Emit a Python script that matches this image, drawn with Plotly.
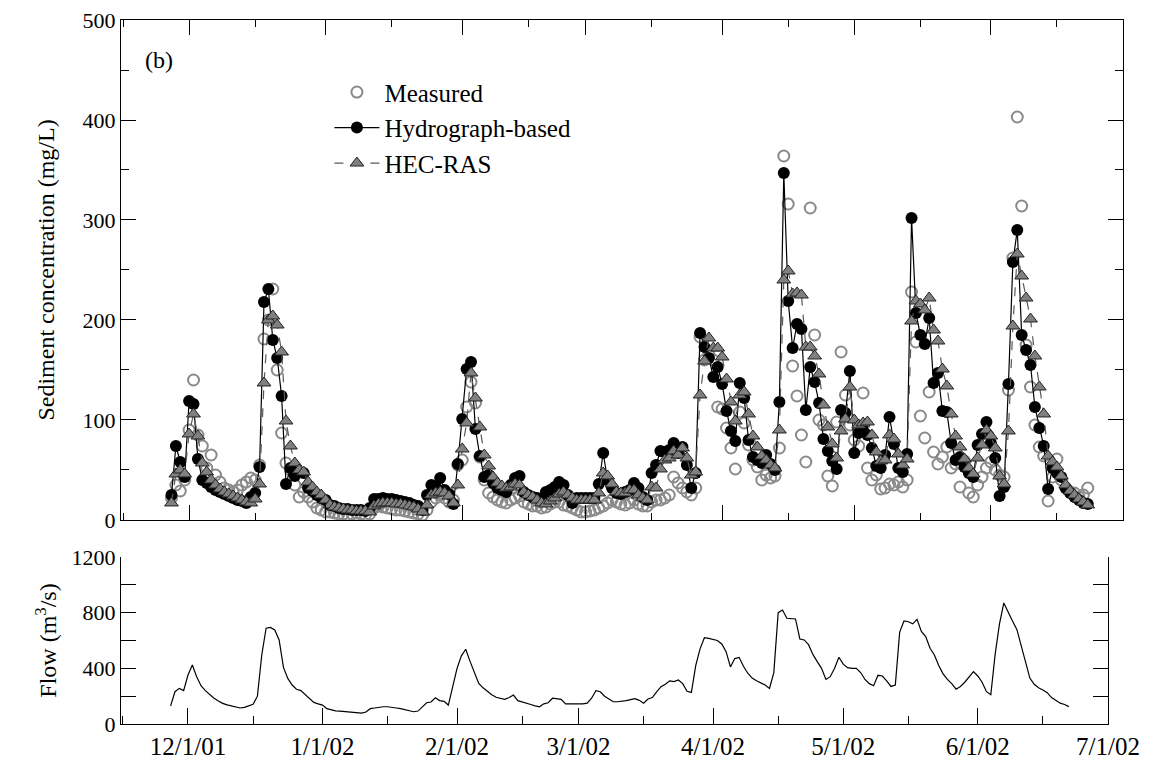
import plotly.graph_objects as go
import pandas as pd

start = "2001-11-27"

measured = [
    22, 35, 29, 40, 90, 140, 85, 74, 52, 65,
    45, 38, 32, 30, 28, 30, 35, 38, 42, 40,
    55, 181, 200, 231, 150, 87, 57, 50, 35, 23,
    28, 23, 18, 12, 10, 8, 8, 7, 6, 6,
    5, 6, 7, 6, 5, 6, 12, 14, 13, 12,
    11, 10, 10, 9, 8, 7, 6, 5, 10, 18,
    22, 25, 22, 18, 20, 55, 60, 113, 138, 117,
    63, 40, 27, 23, 20, 18, 17, 20, 22, 24,
    18, 16, 14, 14, 12, 13, 16, 18, 18, 15,
    14, 12, 10, 8, 8, 9, 10, 12, 14, 17,
    20, 18, 16, 15, 17, 20, 16, 14, 14, 18,
    20, 20, 22, 25, 43, 37, 32, 28, 25, 32,
    183, 160, 165, 160, 113, 111, 92, 72, 51, 108,
    97, 75, 60, 53, 40, 45, 42, 44, 72, 364,
    316, 154, 124, 85, 58, 312, 185, 100, 95, 44,
    34, 98, 168, 125, 95, 80, 74, 127, 52, 40,
    45, 31, 32, 36, 35, 38, 33, 40, 228, 178,
    104, 82, 128, 68, 56, 63, 73, 52, 56, 33,
    59, 27, 23, 35, 43, 52, 58, 50, 45, 43,
    130, 262, 403, 314, 175, 133, 95, 73, 64, 19,
    43, 61, 40, 32, 28, 27, 23, 25, 32,
]

hydrograph = [
    25, 74, 58, 43, 119, 116, 61, 40, 37, 33,
    30, 28, 26, 24, 22, 20, 19, 17, 23, 27,
    53, 218, 231, 180, 162, 124, 36, 52, 44, 48,
    47, 32, 29, 25, 22, 20, 15, 14, 12, 11,
    11, 10, 10, 10, 9, 12, 21, 21, 22, 21,
    21, 20, 19, 18, 17, 15, 14, 10, 25, 35,
    33, 42, 30, 26, 16, 56, 101, 151, 158, 91,
    64, 43, 45, 37, 32, 30, 28, 35, 42, 44,
    28, 25, 23, 22, 20, 28, 30, 33, 38, 35,
    25, 17, 22, 22, 22, 22, 22, 36, 67, 40,
    32, 27, 26, 28, 30, 37, 32, 23, 20, 47,
    55, 69, 68, 70, 77, 67, 73, 55, 32, 47,
    187, 173, 162, 143, 153, 136, 109, 89, 79, 137,
    122, 80, 63, 60, 57, 65, 56, 50, 118, 347,
    219, 172, 196, 191, 110, 153, 138, 117, 81, 69,
    59, 51, 110, 107, 149, 67, 87, 90, 85, 72,
    54, 52, 65, 103, 76, 52, 48, 66, 302, 207,
    185, 176, 202, 137, 147, 109, 108, 77, 60, 63,
    53, 47, 43, 75, 86, 98, 77, 62, 24, 33,
    136, 258, 290, 185, 170, 155, 113, 92, 74, 31,
    52, 47, 43, 32, 27, 23, 20, 17, 16,
]

hecras = [
    17, 46, 50, 46, 86, 106, 84, 57, 48, 40,
    35, 31, 28, 26, 24, 22, 20, 18, 17, 21,
    36, 137, 200, 204, 195, 168, 99, 74, 57, 50,
    48, 38, 33, 28, 25, 20, 15, 13, 12, 11,
    10, 10, 9, 9, 9, 8, 14, 16, 17, 17,
    17, 16, 16, 15, 14, 13, 11, 8, 15, 25,
    27, 28, 27, 24, 17, 35, 71, 97, 147, 122,
    93, 65, 54, 43, 37, 34, 32, 33, 36, 35,
    28, 25, 23, 20, 17, 16, 19, 22, 26, 28,
    25, 22, 20, 20, 20, 20, 20, 27, 47, 44,
    36, 28, 27, 27, 30, 30, 25, 22, 20, 33,
    32, 51, 60, 62, 69, 65, 72, 62, 45, 48,
    125, 159, 182, 172, 172, 163, 141, 118, 99, 125,
    128, 106, 84, 73, 64, 60, 55, 52, 90, 240,
    249, 226, 227, 225, 173, 173, 164, 146, 115, 93,
    76, 62, 89, 101, 133, 100, 95, 97, 98, 85,
    68, 59, 60, 85, 81, 66, 55, 61, 199, 219,
    216, 210, 222, 190, 179, 151, 134, 106, 84, 73,
    61, 52, 46, 62, 75, 90, 84, 72, 44, 36,
    89, 194, 266, 244, 222, 201, 164, 133, 106, 64,
    58, 53, 44, 35, 29, 25, 21, 18, 15,
]

flow = [
    130, 232, 256, 240, 352, 424, 340, 275, 240, 210,
    185, 165, 148, 138, 130, 122, 115, 120, 130, 141,
    200, 496, 688, 694, 676, 604, 407, 328, 280, 250,
    240, 210, 180, 155, 145, 136, 110, 100, 95, 93,
    90, 88, 86, 82, 78, 86, 110, 115, 120, 124,
    124, 122, 115, 110, 102, 92, 88, 93, 125, 153,
    158, 189, 168, 163, 136, 260, 400, 490, 537, 450,
    370, 292, 260, 235, 210, 192, 182, 177, 190, 208,
    168, 160, 150, 140, 130, 124, 145, 153, 185, 180,
    177, 144, 144, 144, 144, 144, 150, 185, 239, 232,
    200, 180, 160, 160, 162, 168, 175, 182, 170, 150,
    180, 190, 230, 268, 285, 310, 305, 316, 290, 235,
    227, 420, 540, 620, 615, 608, 600, 575, 520, 410,
    470, 479, 415, 365, 330, 311, 295, 280, 256, 369,
    800, 819, 760, 760, 755, 611, 604, 570, 500, 448,
    400, 320, 340, 400, 480, 430, 405, 400, 400, 370,
    320, 290, 275, 350, 345, 310, 270, 280, 660, 740,
    735, 720, 752, 665, 628, 544, 496, 420, 360, 320,
    290, 250, 270, 300, 340, 376, 345, 300, 232, 210,
    500, 720, 870, 800, 740, 680, 568, 440, 330, 285,
    260, 245, 225, 190, 170, 150, 140, 125,
]

month_ticks = ["2001-12-01", "2002-01-01", "2002-02-01", "2002-03-01",
               "2002-04-01", "2002-05-01", "2002-06-01", "2002-07-01"]
month_labels = ["12/1/01", "1/1/02", "2/1/02", "3/1/02",
                "4/1/02", "5/1/02", "6/1/02", "7/1/02"]
mid_ticks = ["2001-11-16", "2001-12-16", "2002-01-16", "2002-02-16",
             "2002-03-16", "2002-04-16", "2002-05-16", "2002-06-16"]
conc_ticks = [0, 100, 200, 300, 400, 500]
conc_minor = [50, 150, 250, 350, 450]
flow_ticks = [0, 400, 800, 1200]
flow_minor = [200, 600, 1000]

conc_dates = pd.date_range(start, periods=len(hydrograph), freq="D")
flow_dates = pd.date_range(start, periods=len(flow), freq="D")

FONT = "Liberation Serif"

fig = go.Figure()
fig.add_trace(go.Scatter(
    x=conc_dates, y=measured, mode="markers", name="Measured",
    marker=dict(symbol="circle-open", size=11, color="#8a8a8a", line=dict(width=2)),
    xaxis="x", yaxis="y"))
fig.add_trace(go.Scatter(
    x=conc_dates, y=hydrograph, mode="lines+markers", name="Hydrograph-based",
    line=dict(color="black", width=1.2),
    marker=dict(symbol="circle", size=12, color="black"),
    xaxis="x", yaxis="y"))
fig.add_trace(go.Scatter(
    x=conc_dates, y=hecras, mode="lines+markers", name="HEC-RAS",
    line=dict(color="#5a5a5a", width=1.2, dash="dash"),
    marker=dict(symbol="triangle-up", size=12, color="#808080",
                line=dict(color="#222222", width=1)),
    xaxis="x", yaxis="y"))
fig.add_trace(go.Scatter(
    x=flow_dates, y=flow, mode="lines", name="Flow", showlegend=False,
    line=dict(color="black", width=1.2),
    xaxis="x2", yaxis="y2"))

axis_common = dict(showline=True, linecolor="black", linewidth=1, showgrid=False,
                   zeroline=False, ticks="inside", tickcolor="black", tickwidth=1,
                   automargin=False)

fig.update_layout(
    template="none",
    width=1163, height=770,
    margin=dict(l=121, r=40, t=20, b=46),
    paper_bgcolor="white", plot_bgcolor="white",
    font=dict(family=FONT, size=22, color="black"),
    showlegend=True,
    legend=dict(x=0.208, y=0.93, xanchor="left", yanchor="top",
                bgcolor="rgba(0,0,0,0)", font=dict(size=25, family=FONT),
                itemwidth=45),
    xaxis=dict(domain=[0, 1], anchor="y", type="date",
               range=["2001-11-15 13:00", "2002-07-01 00:00"],
               tickvals=month_ticks, showticklabels=False, ticklen=15,
               mirror="allticks",
               minor=dict(tickvals=mid_ticks, ticklen=7, ticks="inside",
                          tickcolor="black", showgrid=False),
               **axis_common),
    yaxis=dict(domain=[0.2898, 1], anchor="x", range=[0, 500],
               tickvals=conc_ticks, ticklen=15,
               mirror="allticks",
               minor=dict(tickvals=conc_minor, ticklen=8,
                          ticks="inside", tickcolor="black", showgrid=False),
               tickfont=dict(size=22, family=FONT), ticklabelstandoff=0,
               title=dict(text="Sediment concentration (mg/L)",
                          font=dict(size=24, family=FONT), standoff=21),
               **axis_common),
    xaxis2=dict(domain=[0, 0.985], anchor="y2", type="date",
                range=["2001-11-15 13:30", "2002-07-01 00:00"],
                tickvals=month_ticks, ticktext=month_labels, ticklen=16,
                tickfont=dict(size=25, family=FONT), ticklabelstandoff=0,
                minor=dict(tickvals=mid_ticks, ticklen=8, ticks="inside",
                           tickcolor="black", showgrid=False),
                **axis_common),
    yaxis2=dict(domain=[0, 0.2372], anchor="x2", range=[0, 1200],
                tickvals=flow_ticks, ticklen=15, mirror="allticks",
                minor=dict(tickvals=flow_minor, ticklen=15, ticks="inside",
                           tickcolor="black", showgrid=False),
                tickfont=dict(size=22, family=FONT), ticklabelstandoff=0,
                title=dict(text="Flow (m<sup>3</sup>/s)",
                           font=dict(size=24, family=FONT), standoff=8),
                **axis_common),
    annotations=[dict(text="(b)", x=0.022, y=0.943, xref="paper", yref="paper",
                      xanchor="left", yanchor="middle", showarrow=False,
                      font=dict(size=24, family=FONT))],
)

fig.write_html("out.html", config={"displayModeBar": False},
               post_script="document.body.style.margin='0';document.body.style.padding='0';")
